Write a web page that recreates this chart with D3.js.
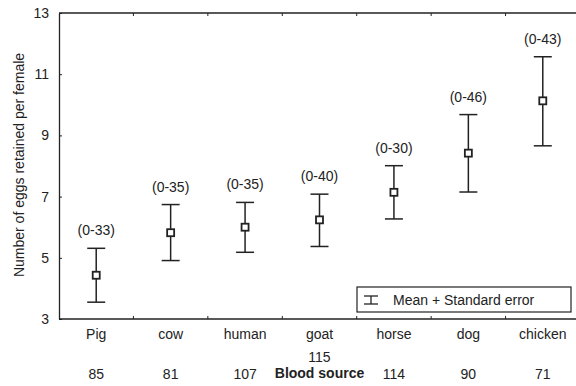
<!DOCTYPE html>
<html>
<head>
<meta charset="utf-8">
<script src="https://cdn.jsdelivr.net/npm/d3@7"></script>
<style>
  body { margin: 0; background: #fff; }
  svg text { font-family: "Liberation Sans", Arial, sans-serif; fill: #222; }
</style>
</head>
<body>
<div id="chart"></div>
<script>
var categories = ['Pig', 'cow', 'human', 'goat', 'horse', 'dog', 'chicken'];
var means = [4.43, 5.82, 6.00, 6.24, 7.14, 8.42, 10.13];
var upper = [5.31, 6.74, 6.81, 7.08, 8.01, 9.68, 11.57];
var lower = [3.55, 4.91, 5.18, 5.37, 6.27, 7.15, 8.66];
var rangeLabels = ['(0-33)', '(0-35)', '(0-35)', '(0-40)', '(0-30)', '(0-46)', '(0-43)'];
var sampleSizes = [85, 81, 107, 115, 114, 90, 71];
var yTicks = [3, 5, 7, 9, 11, 13];
var xTitle = 'Blood source';
var yTitle = 'Number of eggs retained per female';
var legendLabel = 'Mean + Standard error';

var width = 576, height = 386;
var plotLeft = 59, plotRight = 580, plotTop = 13, plotBottom = 319;
var ink = '#222';

var svg = d3.select('#chart')
  .append('svg')
  .attr('width', width)
  .attr('height', height);

var x = d3.scaleBand()
  .domain(categories)
  .range([plotLeft, plotRight])
  .padding(0);

var y = d3.scaleLinear()
  .domain([3, 13])
  .range([plotBottom, plotTop]);

var rows = categories.map(function (c, i) {
  return { name: c, mean: means[i], hi: upper[i], lo: lower[i], label: rangeLabels[i], n: sampleSizes[i] };
});

// frame: left axis with inward ticks
svg.append('g')
  .attr('transform', 'translate(' + plotLeft + ',0)')
  .call(d3.axisLeft(y).tickValues(yTicks).tickSizeInner(-3).tickSizeOuter(0).tickPadding(10))
  .call(function (g) {
    g.select('.domain').attr('stroke', ink).attr('stroke-width', 1.3);
    g.selectAll('.tick line').attr('stroke', ink);
    g.selectAll('.tick text').attr('font-size', 14).attr('fill', ink);
  });

// top and bottom lines
[plotTop, plotBottom].forEach(function (yy) {
  svg.append('line')
    .attr('x1', plotLeft).attr('x2', plotRight)
    .attr('y1', yy).attr('y2', yy)
    .attr('stroke', ink).attr('stroke-width', 1.3);
});

// ticks on band boundaries (top and bottom, pointing in)
var bounds = categories.slice(1).map(function (c) { return x(c); });
svg.append('g').selectAll('line')
  .data(bounds).enter().append('line')
  .attr('x1', function (d) { return d; }).attr('x2', function (d) { return d; })
  .attr('y1', plotBottom).attr('y2', plotBottom - 3)
  .attr('stroke', ink);
svg.append('g').selectAll('line')
  .data(bounds).enter().append('line')
  .attr('x1', function (d) { return d; }).attr('x2', function (d) { return d; })
  .attr('y1', plotTop).attr('y2', plotTop + 3)
  .attr('stroke', ink);

// category names
svg.append('g')
  .attr('transform', 'translate(0,' + plotBottom + ')')
  .call(d3.axisBottom(x).tickSize(0).tickPadding(10))
  .call(function (g) {
    g.select('.domain').remove();
    g.selectAll('.tick text').attr('font-size', 14).attr('fill', ink);
  });

// sample sizes, goat's one lifted above the axis title
var titleIndex = 3;
svg.append('g').selectAll('text')
  .data(rows).enter().append('text')
  .attr('x', function (d) { return x(d.name) + x.bandwidth() / 2; })
  .attr('y', function (d, i) { return i === titleIndex ? 362 : 379; })
  .attr('text-anchor', 'middle')
  .attr('font-size', 14)
  .text(function (d) { return d.n; });

svg.append('text')
  .attr('x', x(categories[titleIndex]) + x.bandwidth() / 2)
  .attr('y', 378)
  .attr('text-anchor', 'middle')
  .attr('font-size', 14)
  .attr('font-weight', 'bold')
  .text(xTitle);

svg.append('text')
  .attr('transform', 'translate(19,165) rotate(-90)')
  .attr('text-anchor', 'middle')
  .attr('dy', '0.35em')
  .attr('font-size', 14)
  .text(yTitle);

// error bars
var capW = 9;
var bars = svg.append('g').selectAll('g')
  .data(rows).enter().append('g')
  .attr('transform', function (d) { return 'translate(' + (x(d.name) + x.bandwidth() / 2) + ',0)'; });

bars.append('line')
  .attr('y1', function (d) { return y(d.hi); })
  .attr('y2', function (d) { return y(d.lo); })
  .attr('stroke', ink).attr('stroke-width', 1.5);

bars.selectAll('line.cap')
  .data(function (d) { return [d.hi, d.lo]; })
  .enter().append('line')
  .attr('class', 'cap')
  .attr('x1', -capW).attr('x2', capW)
  .attr('y1', function (v) { return y(v); })
  .attr('y2', function (v) { return y(v); })
  .attr('stroke', ink).attr('stroke-width', 1.5);

bars.append('rect')
  .attr('x', -3.5).attr('width', 7)
  .attr('y', function (d) { return y(d.mean) - 3.5; })
  .attr('height', 7)
  .attr('fill', '#fff')
  .attr('stroke', ink).attr('stroke-width', 1.8);

bars.append('text')
  .attr('y', function (d) { return y(d.hi) - 13; })
  .attr('text-anchor', 'middle')
  .attr('font-size', 14)
  .text(function (d) { return d.label; });

// legend
var lg = svg.append('g').attr('transform', 'translate(357,287)');
lg.append('rect')
  .attr('width', 214).attr('height', 25)
  .attr('fill', '#fff')
  .attr('stroke', ink).attr('stroke-width', 1.2);
lg.append('line').attr('x1', 14).attr('x2', 14).attr('y1', 9).attr('y2', 17).attr('stroke', ink).attr('stroke-width', 1.3);
lg.append('line').attr('x1', 7).attr('x2', 21).attr('y1', 9).attr('y2', 9).attr('stroke', ink).attr('stroke-width', 1.3);
lg.append('line').attr('x1', 7).attr('x2', 21).attr('y1', 17).attr('y2', 17).attr('stroke', ink).attr('stroke-width', 1.3);
lg.append('text')
  .attr('x', 36).attr('y', 18)
  .attr('font-size', 14)
  .text(legendLabel);
</script>
</body>
</html>
